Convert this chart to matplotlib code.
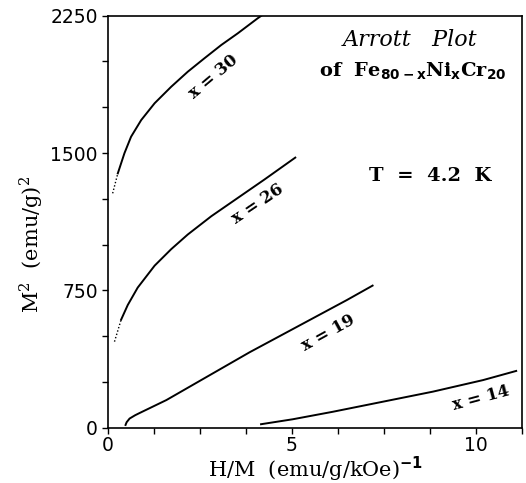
import matplotlib
matplotlib.use("Agg")
import matplotlib.pyplot as plt
import numpy as np

# Data
x30_h = [0.14, 0.28, 0.46, 0.64, 0.915, 1.28, 1.73, 2.18, 2.63, 3.09, 3.54, 4.08, 4.18]
x30_m = [1280, 1389, 1499, 1589, 1680, 1772, 1862, 1944, 2017, 2090, 2154, 2236, 2250]
x26_h = [0.19, 0.37, 0.55, 0.82, 1.28, 1.73, 2.18, 2.82, 3.54, 4.26, 5.1]
x26_m = [470, 590, 670, 765, 885, 975, 1055, 1155, 1255, 1355, 1475]
x19_h = [0.49, 0.52, 0.6, 0.75, 0.87, 1.6, 3.86, 6.5, 7.2]
x19_m = [15, 30, 50, 68, 80, 151, 412, 697, 776]
x14_h = [4.17, 5.03, 6.12, 7.48, 8.84, 10.2, 11.1]
x14_m = [19, 46, 87, 142, 197, 260, 310]

curve_labels = ["x = 30", "x = 26", "x = 19", "x = 14"]
xticks = [0, 5, 10]
yticks = [0, 750, 1500, 2250]

SERIF = ["DejaVu Serif"]
SANS = ["DejaVu Sans"]

W, H = 526, 483
fig = plt.figure(figsize=(W / 100, H / 100), dpi=100)
ax = fig.add_axes([107.5 / W, 1 - 427.7 / H, (521.7 - 107.5) / W, (427.7 - 15.7) / H])

lw = 1.4
ndot = 2  # the first points of the two top curves are drawn as dots
ax.plot(x30_h[:ndot], x30_m[:ndot], color="black", lw=1.0, ls=(0, (1, 1.5)))
ax.plot(x30_h[ndot - 1:], x30_m[ndot - 1:], color="black", lw=lw)
ax.plot(x26_h[:ndot], x26_m[:ndot], color="black", lw=1.0, ls=(0, (1, 1.5)))
ax.plot(x26_h[ndot - 1:], x26_m[ndot - 1:], color="black", lw=lw)
ax.plot(x19_h, x19_m, color="black", lw=lw)
ax.plot(x14_h, x14_m, color="black", lw=lw)

ax.set_xlim(0, 11.25)
ax.set_ylim(0, 2250)
ax.set_xticks(np.arange(0, 11.26, 1.25), minor=True)
ax.set_yticks(np.arange(0, 2251, 250), minor=True)
ax.set_xticks(xticks)
ax.set_yticks(yticks)
ax.tick_params(axis="both", which="both", direction="out", top=False, right=False,
               width=1.0, length=4, labelsize=13.5, pad=3)
ax.tick_params(axis="x", pad=2)
for lab in ax.get_xticklabels() + ax.get_yticklabels():
    lab.set_family(SANS)
for s in ax.spines.values():
    s.set_linewidth(1.2)


def place(px, py, s, rot=0, va="center", **kw):
    fig.text(px / W, 1 - py / H, s, ha="center", va=va, rotation=rot,
             rotation_mode="anchor", **kw)


place(316, 477, r"H/M  (emu/g/kOe)$^{\mathbf{-1}}$", va="baseline",
      family=SERIF, fontsize=15)
place(31, 244, r"M$^{\mathregular{2}}$  (emu/g)$^{\mathregular{2}}$", rot=90,
      family=SERIF, fontsize=15)

place(213, 77, curve_labels[0], 40, family=SERIF, fontweight="bold", fontsize=12)
place(258, 204, curve_labels[1], 34, family=SERIF, fontweight="bold", fontsize=12)
place(328, 333, curve_labels[2], 29, family=SERIF, fontweight="bold", fontsize=12)
place(481, 398, curve_labels[3], 15, family=SERIF, fontweight="bold", fontsize=12)

place(410, 40, "Arrott   Plot", family=SERIF, style="italic", fontsize=16)
place(413, 71, r"of  Fe$_{\mathbf{80-x}}$Ni$_{\mathbf{x}}$Cr$_{\mathbf{20}}$",
      family=SERIF, fontweight="bold", fontsize=14)
place(430, 176, "T  =  4.2  K", family=SERIF, fontweight="bold", fontsize=14)

fig.savefig("out.png", dpi=100)
